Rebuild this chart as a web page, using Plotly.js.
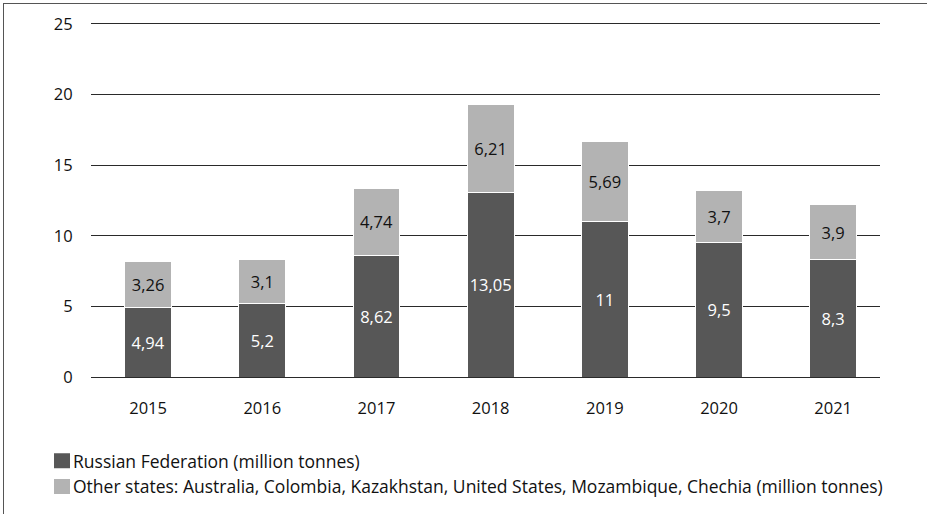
<!DOCTYPE html>
<html>
<head>
<meta charset="utf-8">
<script src="https://cdn.plot.ly/plotly-3.0.1.min.js"></script>
<style>
  html, body { margin: 0; padding: 0; background: #fff; }
  #wrap { position: relative; width: 927px; height: 514px; }
  #chart { width: 927px; height: 514px; }
  #frame { position: absolute; left: 3px; top: 3px; right: -2px; bottom: -2px;
           border-left: 1.5px solid #555; border-top: 1.5px solid #555; pointer-events: none; }
</style>
</head>
<body>
<div id="wrap">
  <div id="chart"></div>
  <div id="frame"></div>
</div>
<script>
const years = ['2015', '2016', '2017', '2018', '2019', '2020', '2021'];
const russia = [4.94, 5.2, 8.62, 13.05, 11, 9.5, 8.3];
const others = [3.26, 3.1, 4.74, 6.21, 5.69, 3.7, 3.9];
const seriesNames = [
  'Russian Federation (million tonnes)',
  'Other states: Australia, Colombia, Kazakhstan, United States, Mozambique, Chechia (million tonnes)'
];
const yTicks = [0, 5, 10, 15, 20, 25];

const fmt = v => String(v).replace('.', ',');
const FONT = 'Open Sans, Lato, sans-serif';

const common = {
  type: 'bar',
  x: years,
  width: 0.41,
  textposition: 'inside',
  insidetextanchor: 'middle',
  textangle: 0,
  constraintext: 'none',
  hoverinfo: 'skip',
  cliponaxis: false
};

const traces = [
  Object.assign({}, common, {
    name: seriesNames[0],
    y: russia,
    text: russia.map(fmt),
    marker: { color: '#575757', line: { color: '#ffffff', width: 1 } },
    textfont: { family: FONT, size: 16.5, color: '#ffffff' }
  }),
  Object.assign({}, common, {
    name: seriesNames[1],
    y: others,
    text: others.map(fmt),
    marker: { color: '#b3b3b3', line: { color: '#ffffff', width: 1 } },
    textfont: { family: FONT, size: 16.5, color: '#111111' }
  })
];

const layout = {
  width: 927,
  height: 514,
  barmode: 'stack',
  paper_bgcolor: '#ffffff',
  plot_bgcolor: '#ffffff',
  font: { family: FONT, size: 16, color: '#111111' },
  margin: { l: 91, r: 47, t: 21, b: 137, pad: 0, autoexpand: false },
  showlegend: true,
  legend: {
    orientation: 'v',
    x: -0.0735, xanchor: 'left',
    y: -0.185, yanchor: 'top',
    traceorder: 'normal',
    font: { family: FONT, size: 17.5, color: '#111111' },
    bgcolor: 'rgba(0,0,0,0)',
    itemclick: false,
    itemdoubleclick: false
  },
  xaxis: {
    type: 'category',
    range: [-0.5, 6.41],
    showgrid: false,
    showline: false,
    zeroline: false,
    ticks: 'outside',
    ticklen: 16,
    tickcolor: 'rgba(0,0,0,0)',
    tickfont: { family: FONT, size: 16.5, color: '#111111' },
    fixedrange: true
  },
  yaxis: {
    range: [0, 25.2],
    tickvals: yTicks,
    ticktext: yTicks.map(String),
    showgrid: true,
    gridcolor: '#2a2a2a',
    gridwidth: 1,
    zeroline: true,
    zerolinecolor: '#2a2a2a',
    zerolinewidth: 1,
    showline: false,
    ticks: 'outside',
    ticklen: 14,
    tickcolor: 'rgba(0,0,0,0)',
    tickfont: { family: FONT, size: 16.5, color: '#111111' },
    fixedrange: true
  }
};

Plotly.newPlot('chart', traces, layout, { displayModeBar: false, staticPlot: true }).then(gd => {
  // Square legend swatches sitting right next to their labels, as in the reference
  gd.querySelectorAll('.legend .traces .legendpoints path').forEach(p => {
    p.setAttribute('d', 'M8,7.5H-8V-7.5H8Z');
    p.setAttribute('transform', 'translate(29,0)');
    p.style.strokeWidth = '0px';
  });
});
</script>
</body>
</html>
